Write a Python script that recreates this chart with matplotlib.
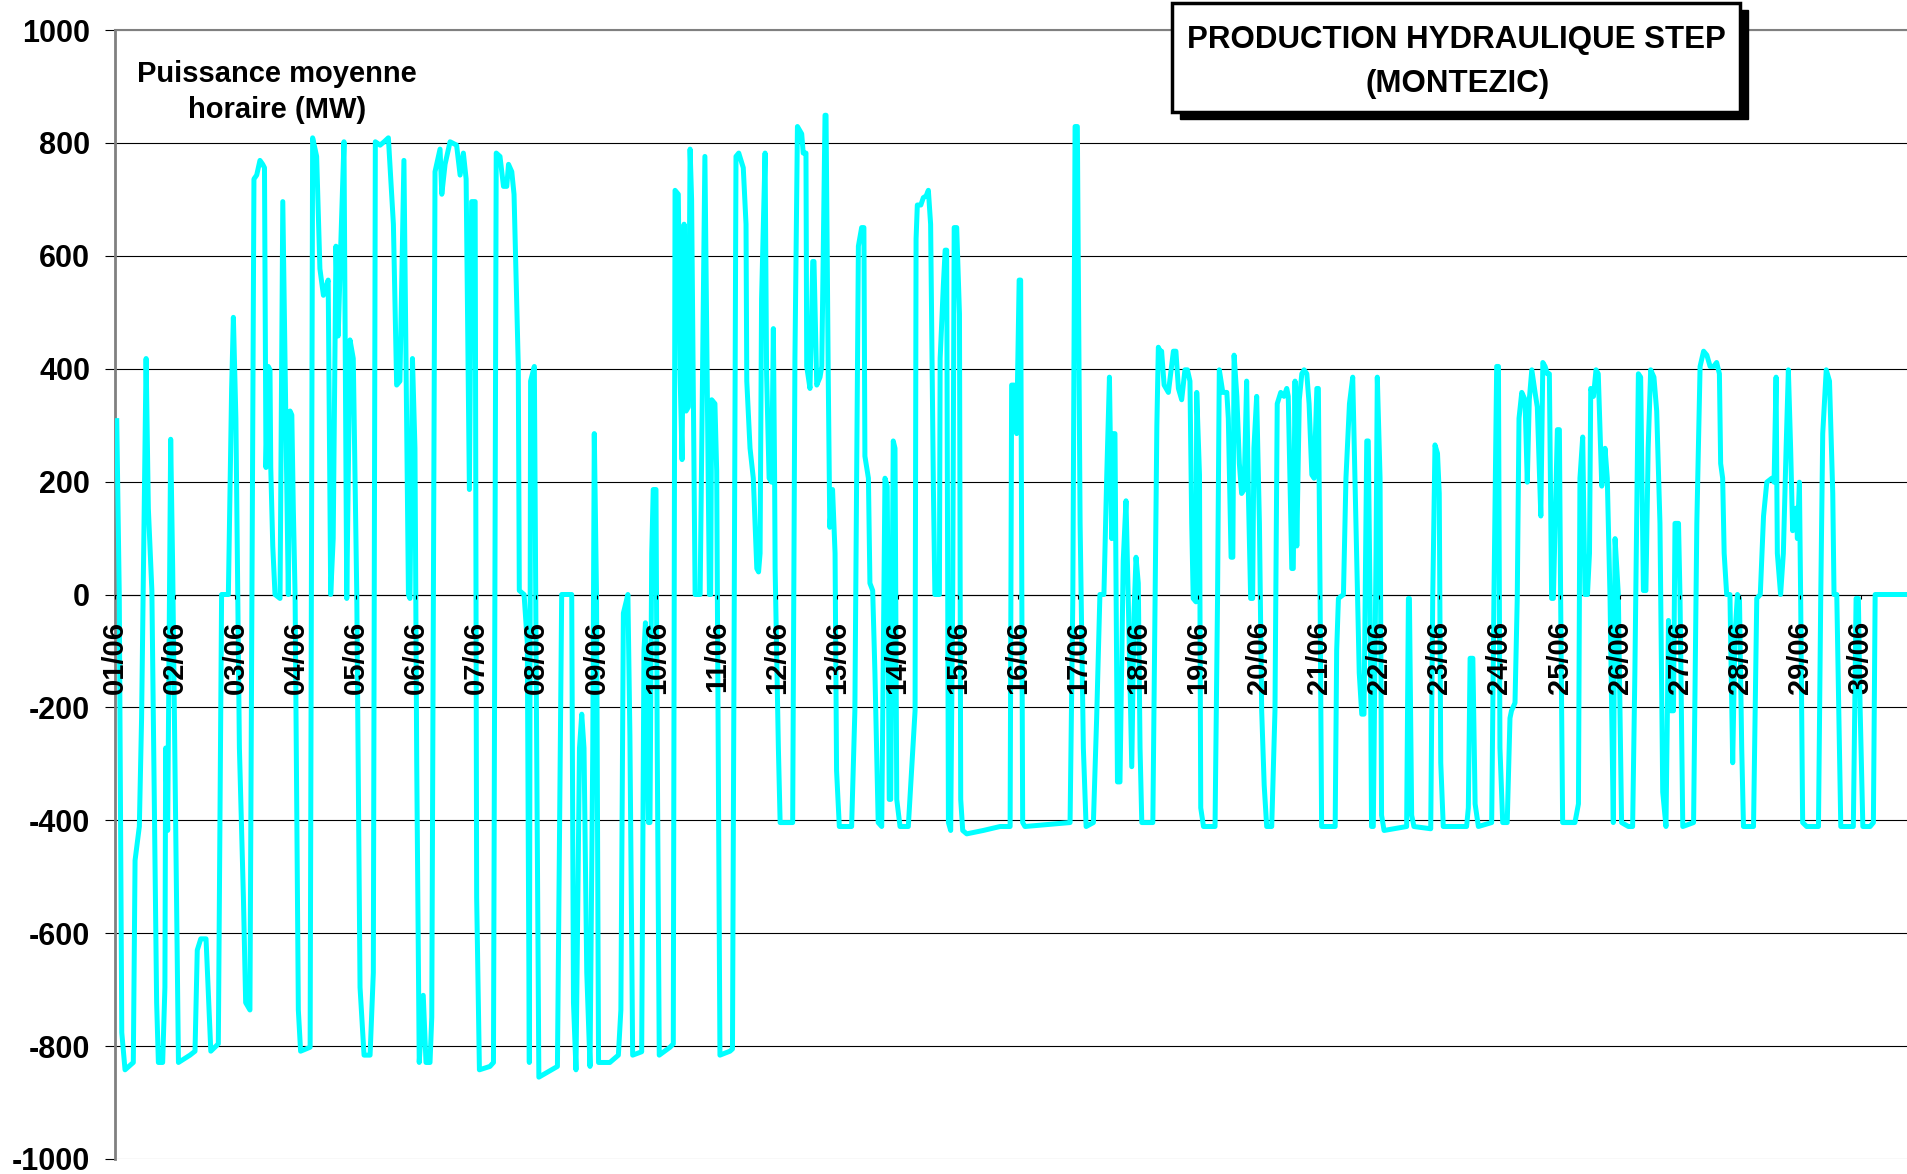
import numpy as np
import matplotlib
matplotlib.use('Agg')
import matplotlib.pyplot as plt
from matplotlib.patches import Rectangle

plt.rcParams['font.family'] = 'Liberation Sans'
plt.rcParams['font.weight'] = 'bold'
plt.rcParams['axes.unicode_minus'] = False

# Day labels (one tick every 24 h, 01/06 at hour 0)
day_labels = ['01/06', '02/06', '03/06', '04/06', '05/06', '06/06', '07/06', '08/06',
              '09/06', '10/06', '11/06', '12/06', '13/06', '14/06', '15/06', '16/06',
              '17/06', '18/06', '19/06', '20/06', '21/06', '22/06', '23/06', '24/06',
              '25/06', '26/06', '27/06', '28/06', '29/06', '30/06']
day_hours = [24 * i for i in range(len(day_labels))]
y_ticks = [-1000, -800, -600, -400, -200, 0, 200, 400, 600, 800, 1000]

# Hourly mean power (MW): hour since 01/06 00:00 / value
# 01/06 - 03/06
h1 = [0.7, 1.7, 2.7, 4.0, 7.3, 8.0, 9.7, 10.6, 12.4, 13.3,
      14.7, 16.6, 17.3, 19.0, 19.9, 20.2, 21.0, 22.2, 23.0, 25.3,
      29.9, 31.9, 32.8, 34.2, 36.3, 38.2, 41.2, 42.5, 45.2, 46.5,
      47.2, 48.2, 49.6, 51.2, 52.1, 53.8, 55.4, 56.5, 57.8]
p1 = [308, 0, -776, -842, -829, -471, -411, -219, 418, 152,
      7, -723, -829, -829, -696, -272, -418, 275, 46, -829,
      -816, -809, -630, -610, -610, -809, -796, 0, 0, 365,
      491, 312, -272, -537, -723, -736, 736, 743, 769]
# 03/06 - 06/06
h2 = [58.9, 59.6, 60.2, 61.1, 61.8, 62.1, 62.9, 63.8, 65.8, 66.9,
      69.1, 69.8, 70.5, 71.1, 71.8, 73.1, 74.0, 77.8, 78.8, 80.4,
      81.7, 83.1, 85.0, 86.0, 87.0, 88.1, 89.0, 90.0, 91.3, 92.4,
      93.7, 95.0, 96.4, 97.7, 99.3, 101.7, 103.0, 103.8, 105.7, 107.3,
      109.0, 111.0, 112.3, 113.6, 115.2, 117.0, 117.6, 118.6, 119.6, 120.3,
      121.3, 122.9, 124.0, 125.6, 126.3, 127.6, 129.6, 130.3, 131.6, 133.6,
      136.2]
p2 = [762, 756, 225, 404, 398, 225, 86, 0, -7, 696,
      0, 325, 318, 152, 0, -736, -809, -802, 809, 776,
      577, 530, 557, 0, 99, 617, 458, 617, 802, -7,
      451, 418, 0, -696, -816, -816, -670, 802, 796, 802,
      809, 656, 371, 378, 769, 0, -7, 418, 259, -298,
      -829, -710, -829, -829, -749, 749, 789, 709, 762, 802,
      796]
# 06/06 - 09/06
h3 = [137.6, 138.9, 140.0, 141.3, 142.2, 143.6, 144.2, 145.3, 149.5, 150.9,
      152.0, 153.5, 154.9, 156.2, 156.9, 158.2, 159.1, 160.8, 161.2, 163.1,
      164.4, 165.2, 165.7, 167.2, 167.9, 169.0, 176.4, 178.1, 182.1, 182.8,
      183.8, 185.2, 186.1, 187.0, 188.1, 189.4, 190.5, 191.1, 192.0, 192.8,
      197.3, 200.7, 201.7]
p3 = [743, 782, 736, 186, 696, 696, -537, -842, -836, -829,
      782, 776, 723, 723, 762, 749, 709, 404, 7, 0,
      -86, -829, 378, 404, -113, -855, -836, 0, 0, -723,
      -842, -272, -212, -272, -670, -836, -272, 285, -7, -829,
      -829, -816, -736]
# 09/06 - 12/06
h4 = [202.7, 204.5, 205.3, 206.4, 210.0, 210.9, 211.5, 212.7, 213.3, 214.0,
      214.6, 215.7, 216.2, 217.0, 221.3, 222.6, 223.3, 224.6, 225.3, 226.1,
      226.9, 227.7, 228.6, 229.3, 229.9, 231.3, 233.3, 235.2, 236.3, 237.0,
      237.5, 237.9, 239.2, 239.9, 241.2, 245.2, 246.2, 247.6, 248.7, 250.5,
      251.6, 251.9, 253.2, 254.5, 255.9, 256.6, 257.2, 257.8, 259.2, 259.8,
      260.8, 261.8, 262.5, 263.0, 263.2, 264.5, 265.2, 270.2, 271.1, 272.1]
p4 = [-33, 0, -250, -816, -810, -99, -50, -404, -404, 73,
      186, 186, -272, -816, -802, -796, 716, 709, 391, 239,
      656, 325, 332, 789, 700, 0, 0, 776, 300, 0,
      0, 345, 338, 219, -816, -809, -805, 776, 782, 756,
      656, 378, 259, 206, 46, 40, 73, 524, 782, 391,
      206, 199, 471, 206, 46, -272, -404, -404, 418, 829]
# 12/06 - 15/06
h5 = [273.8, 274.4, 275.5, 275.8, 277.1, 278.2, 278.7, 279.8, 281.1, 281.8,
      283.1, 283.5, 284.4, 285.0, 286.1, 287.1, 287.7, 288.8, 293.7, 295.0,
      296.4, 297.7, 298.6, 299.0, 300.4, 301.0, 302.1, 303.0, 304.3, 305.7,
      307.0, 307.9, 308.7, 309.3, 310.3, 311.0, 311.7, 313.0, 316.3, 319.0,
      319.4, 319.9, 321.3, 322.3, 323.4, 324.3, 325.2, 326.3, 326.9, 328.7,
      329.0, 330.3, 331.0, 331.6, 332.3, 333.2, 334.0, 334.6, 335.6, 336.7,
      337.2, 338.0, 339.6, 346.2, 352.9]
p5 = [816, 782, 782, 404, 365, 590, 590, 371, 385, 404,
      849, 849, 378, 119, 186, 73, -312, -411, -411, -206,
      617, 650, 650, 245, 206, 20, 7, -139, -404, -411,
      206, 192, -363, -363, 272, 259, -363, -411, -411, -206,
      630, 690, 690, 703, 706, 716, 656, 192, 0, 0,
      418, 550, 610, 610, -404, -418, -7, 650, 650, 497,
      -363, -418, -424, -418, -411]
# 15/06 - 18/06
h6 = [356.9, 357.5, 358.5, 359.5, 360.5, 361.1, 361.9, 362.8, 380.8, 381.9,
      382.8, 383.7, 384.8, 386.1, 387.2, 390.1, 391.4, 392.7, 394.3, 395.4,
      396.5, 397.4, 398.1, 398.7, 399.7, 400.7, 402.0, 403.1, 404.0, 405.4,
      406.3, 407.1, 408.0, 408.7, 409.4, 413.8, 414.7, 415.4, 416.0, 416.7]
p6 = [-411, 371, 371, 285, 557, 557, -404, -411, -404, -7,
      829, 829, 126, -272, -411, -404, -219, 0, 0, 206,
      385, 99, 285, 285, -332, -332, 60, 166, -7, -305,
      -33, 66, 20, -272, -404, -404, -7, 298, 438, 431]
# 18/06 - 21/06
h7 = [417.3, 418.3, 420.0, 422.0, 423.0, 424.0, 425.3, 426.6, 427.6, 428.6,
      429.3, 429.9, 431.0, 431.3, 432.4, 432.9, 434.0, 438.6, 439.6, 440.3,
      441.7, 443.3, 443.9, 445.0, 445.7, 446.2, 447.3, 448.3, 449.2, 450.2,
      451.2, 451.9, 452.8, 453.6, 454.1, 455.2, 456.3, 457.2, 458.2, 459.2,
      461.2, 462.5, 463.4, 464.8, 466.1, 467.2, 467.8, 469.2, 469.8, 470.5,
      471.2, 472.2, 473.2, 474.1, 475.2, 476.1, 477.2, 478.1, 479.2, 479.8,
      480.5, 481.1, 486.5, 487.1, 487.8, 489.8, 490.8, 492.2, 493.5, 494.8]
p7 = [431, 371, 358, 431, 431, 365, 345, 398, 398, 378,
      126, -7, -13, 358, 212, -378, -411, -411, -7, 398,
      358, 358, 312, 66, 66, 424, 351, 232, 179, 186,
      378, 179, -7, -7, 259, 351, 126, -206, -338, -411,
      -411, -206, 338, 358, 351, 365, 351, 46, 46, 378,
      86, 345, 391, 398, 391, 338, 212, 206, 365, 365,
      -7, -411, -411, -99, -7, 0, 206, 338, 385, 126]
# 21/06 - 24/06
h8 = [496.1, 497.1, 498.0, 499.1, 499.7, 500.4, 501.0, 501.7, 502.8, 503.3,
      504.4, 505.0, 506.0, 515.0, 515.7, 516.1, 517.0, 517.9, 524.6, 525.4,
      526.3, 527.3, 528.0, 528.6, 529.6, 538.9, 539.6, 540.3, 541.4, 542.3,
      543.6, 548.9, 549.8, 550.9, 551.6, 552.2, 553.3, 555.1, 556.2, 556.8,
      558.2, 559.1, 559.8, 560.9, 562.2, 563.1, 563.9, 564.9, 566.2, 567.1]
p8 = [-139, -212, -212, 272, 272, -7, -411, -411, 73, 385,
      206, -391, -418, -411, -7, -7, -391, -411, -415, -7,
      265, 250, 179, -298, -411, -411, -378, -113, -113, -371,
      -411, -404, -7, 404, 404, -272, -404, -404, -219, -206,
      -192, -7, 312, 358, 345, 199, 345, 398, 358, 332]
# 24/06 - 27/06
h9 = [568.5, 569.3, 570.2, 571.1, 571.9, 572.8, 573.5, 575.1, 575.9, 576.4,
      577.2, 582.1, 583.5, 584.1, 585.2, 586.1, 587.1, 587.9, 588.4, 589.5,
      590.5, 591.4, 592.8, 594.1, 595.0, 596.1, 597.4, 598.1, 599.4, 600.7,
      603.4, 605.1, 606.0, 607.4, 608.3, 609.4, 610.4, 611.3, 612.3, 613.6,
      614.7, 616.0, 617.1, 618.4, 619.4, 620.3, 621.4, 622.0, 623.4, 624.0,
      625.1, 629.4, 630.7, 632.0, 633.4, 634.7, 636.0, 637.4]
p9 = [139, 411, 404, 391, 391, -7, -7, 292, 292, -7,
      -404, -404, -371, 206, 279, 0, 0, 73, 365, 351,
      398, 391, 192, 259, 206, -7, -404, 99, 0, -404,
      -411, -411, -139, 391, 385, 7, 7, 259, 398, 385,
      325, 126, -350, -411, -46, -206, -206, 126, 126, -7,
      -411, -404, 126, 404, 431, 424, 404, 404]
# 27/06 - 30/06
h10 = [638.6, 639.7, 640.2, 641.0, 641.6, 642.6, 643.9, 645.0, 645.9, 646.9,
       647.7, 648.6, 649.3, 653.3, 654.6, 656.0, 657.3, 658.6, 660.6, 661.5,
       662.3, 662.8, 664.1, 665.2, 666.3, 667.2, 668.1, 668.9, 670.3, 670.8,
       671.6, 672.1, 672.9, 674.5, 679.2, 680.1, 680.9, 682.3, 683.6, 684.9,
       685.4, 686.5, 688.1, 693.1, 694.2, 695.1, 695.8, 696.9, 699.8, 701.1,
       701.8, 714.5]
p10 = [411, 391, 232, 206, 73, 0, 0, -298, -73, 0,
       -7, -272, -411, -411, -7, 0, 139, 199, 206, 199,
       385, 73, 0, 73, 259, 398, 259, 113, 153, 99,
       199, -7, -404, -411, -411, -7, 285, 398, 378, 179,
       0, 0, -411, -411, -7, -7, -200, -411, -411, -404,
       0, 0]

hours = np.concatenate([h1, h2, h3, h4, h5, h6, h7, h8, h9, h10])
power_mw = np.concatenate([p1, p2, p3, p4, p5, p6, p7, p8, p9, p10])

W, H = 1907, 1174
fig = plt.figure(figsize=(W / 100, H / 100), dpi=100)
ax = fig.add_axes([115 / W, 1 - 1159 / H, 1 - 115 / W, (1159 - 30) / H])

ax.plot(hours, power_mw, color='#00FFFF', lw=3.6, zorder=3)

ax.set_xlim(0, 714.5)
ax.set_ylim(-1000, 1000)
ax.set_yticks(y_ticks)
ax.set_yticklabels([str(v) for v in y_ticks])
ax.set_xticks(day_hours)
ax.set_xticklabels(day_labels)

ax.grid(axis='y', color='black', lw=0.8)
ax.grid(axis='x', visible=False)
gl = ax.yaxis.get_gridlines()
gl[0].set_color('#808080')
gl[-1].set_color('#808080')

ax.spines['right'].set_visible(False)
ax.spines['top'].set_color('#808080')
ax.spines['top'].set_linewidth(1.5)
ax.spines['left'].set_color('#808080')
ax.spines['left'].set_linewidth(2.0)
ax.spines['bottom'].set_position(('data', 0))
ax.spines['bottom'].set_linewidth(0.8)

ax.tick_params(axis='y', direction='out', length=7, width=0.8, pad=11,
               labelsize=22, colors='black')
ax.tick_params(axis='x', direction='out', length=3, width=0.8, pad=16,
               labelsize=21, labelrotation=90)
for lab in ax.get_xticklabels() + ax.get_yticklabels():
    lab.set_fontweight('bold')
# date labels sit on top of the curve
ax.xaxis.set_zorder(4)

# Y axis caption inside the plot
fig.text(277 / W, 1 - 82 / H, 'Puissance moyenne', ha='center', va='baseline',
         fontsize=21, fontweight='bold')
fig.text(277 / W, 1 - 118 / H, 'horaire (MW)', ha='center', va='baseline',
         fontsize=21, fontweight='bold')

# Title box with drop shadow
shadow = Rectangle((1180 / W, 1 - 119 / H), 568 / W, 109 / H, transform=fig.transFigure,
                   facecolor='black', edgecolor='black', zorder=5)
box = Rectangle((1172 / W, 1 - 112 / H), 568 / W, 109 / H, transform=fig.transFigure,
                facecolor='white', edgecolor='black', lw=2.5, zorder=6)
fig.add_artist(shadow)
fig.add_artist(box)
fig.text(1456 / W, 1 - 48 / H, 'PRODUCTION HYDRAULIQUE STEP', ha='center', va='baseline',
         fontsize=22.5, fontweight='bold', zorder=7)
fig.text(1458 / W, 1 - 92 / H, '(MONTEZIC)', ha='center', va='baseline',
         fontsize=22.5, fontweight='bold', zorder=7)

fig.savefig('out.png', dpi=100)
